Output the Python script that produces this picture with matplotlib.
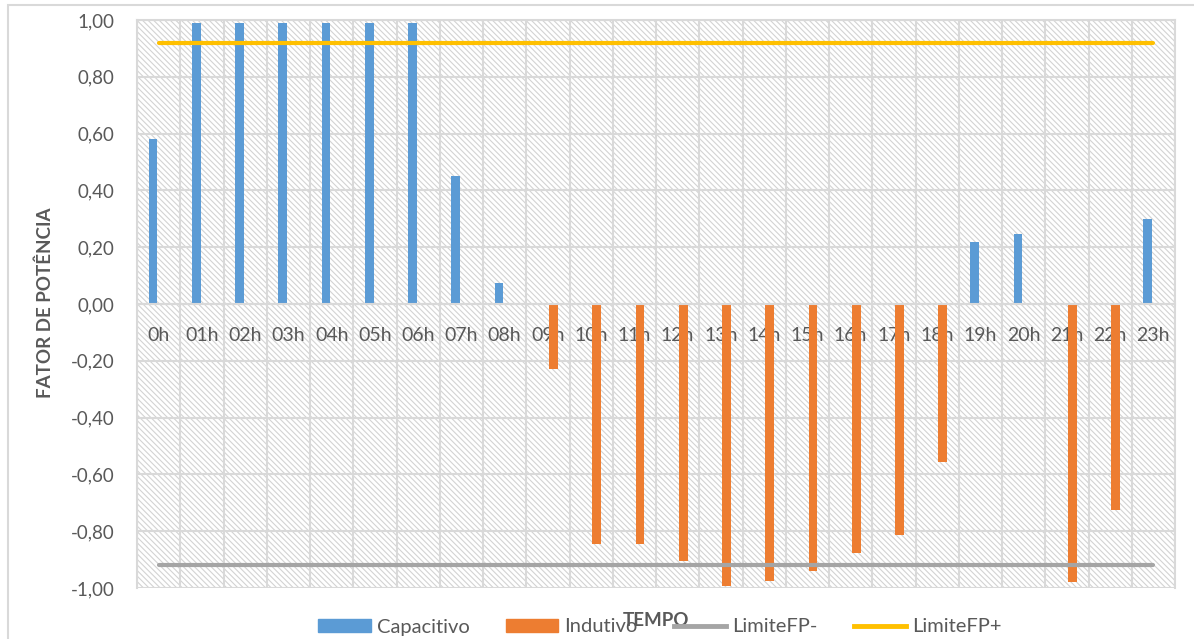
import numpy as np
import matplotlib
matplotlib.use('Agg')
import matplotlib.pyplot as plt
from matplotlib.patches import Rectangle, Patch
from matplotlib.lines import Line2D

plt.rcParams['font.family'] = ['Lato', 'DejaVu Sans']
plt.rcParams['hatch.linewidth'] = 0.8

# Data
horas = ['0h', '01h', '02h', '03h', '04h', '05h', '06h', '07h', '08h', '09h', '10h', '11h',
         '12h', '13h', '14h', '15h', '16h', '17h', '18h', '19h', '20h', '21h', '22h', '23h']
capacitivo = [0.58, 0.99, 0.99, 0.99, 0.99, 0.99, 0.99, 0.45, 0.075, 0, 0, 0,
              0, 0, 0, 0, 0, 0, 0, 0.22, 0.245, 0, 0, 0.30]
indutivo = [0, 0, 0, 0, 0, 0, 0, 0, 0, -0.23, -0.845, -0.845,
            -0.905, -0.993, -0.977, -0.94, -0.878, -0.813, -0.555, 0, 0, -0.98, -0.725, 0]
limite_neg = [-0.92] * 24
limite_pos = [0.92] * 24
y_ticks = [-1.0, -0.8, -0.6, -0.4, -0.2, 0.0, 0.2, 0.4, 0.6, 0.8, 1.0]

azul = '#5B9BD5'
laranja = '#ED7D31'
cinza = '#A5A5A5'
amarelo = '#FFC000'
texto = '#595959'
grade = '#D9D9D9'

fig = plt.figure(figsize=(11.94, 6.39), dpi=100)
ax = fig.add_axes([137 / 1194, 1 - 588 / 639, (1175 - 137) / 1194, (588 - 20) / 639])

x = np.arange(len(horas))

# hatched background of the plot area
ax.add_patch(Rectangle((0, 0), 1, 1, transform=ax.transAxes, facecolor='white',
                       edgecolor='#D3D3D3', linewidth=0, hatch='\\' * 6, zorder=0.1))

ax.bar(x - 0.13, capacitivo, width=0.2, color=azul, zorder=2)
ax.bar(x + 0.13, indutivo, width=0.2, color=laranja, zorder=2)
ax.plot(x, limite_neg, color=cinza, linewidth=3, solid_capstyle='round', zorder=3)
ax.plot(x, limite_pos, color=amarelo, linewidth=3, solid_capstyle='round', zorder=3)

ax.set_xlim(-0.5, 23.5)
ax.set_ylim(-1, 1)

ax.set_yticks(y_ticks)
ax.set_yticklabels([f'{v:.2f}'.replace('.', ',') for v in y_ticks])
ax.set_xticks(x)
ax.set_xticklabels(horas)
ax.set_xticks(np.arange(-0.5, 24, 1), minor=True)

ax.spines['bottom'].set_position(('data', 0))
for s in ax.spines.values():
    s.set_color(grade)
    s.set_linewidth(1.5)

ax.tick_params(axis='both', which='both', length=0, colors=texto, labelsize=13.5)
ax.tick_params(axis='x', labelsize=14)
ax.tick_params(axis='y', pad=16)
ax.tick_params(axis='x', pad=16.5)
ax.set_axisbelow(True)
ax.grid(axis='y', which='major', color=grade, linewidth=1.5, zorder=0.5)
ax.grid(axis='x', which='minor', color=grade, linewidth=1.5, zorder=0.5)

fig.text(45 / 1194, 1 - 303 / 639, 'FATOR DE POTÊNCIA', rotation=90, ha='center', va='center',
         fontsize=13.5, fontweight='bold', color=texto)

handles = [Patch(color=azul), Patch(color=laranja),
           Line2D([], [], color=cinza, linewidth=3.5), Line2D([], [], color=amarelo, linewidth=3.5)]
fig.legend(handles, ['Capacitivo', 'Indutivo', 'LimiteFP-', 'LimiteFP+'], ncol=4, loc='center',
           bbox_to_anchor=(660 / 1194, 1 - 627 / 639), frameon=False, fontsize=14.5,
           handlelength=2.6, handleheight=0.6, handletextpad=0.3, columnspacing=1.8,
           labelcolor=texto)

fig.text(656 / 1194, 1 - 620 / 639, 'TEMPO', ha='center', va='center',
         fontsize=13.5, fontweight='bold', color=texto)

# chart border
fig.add_artist(Rectangle((8 / 1194, -0.1), 1.2, 1.1 - 5 / 639, transform=fig.transFigure,
                         fill=False, edgecolor=grade, linewidth=1.5))

fig.savefig('out.png', dpi=100)
